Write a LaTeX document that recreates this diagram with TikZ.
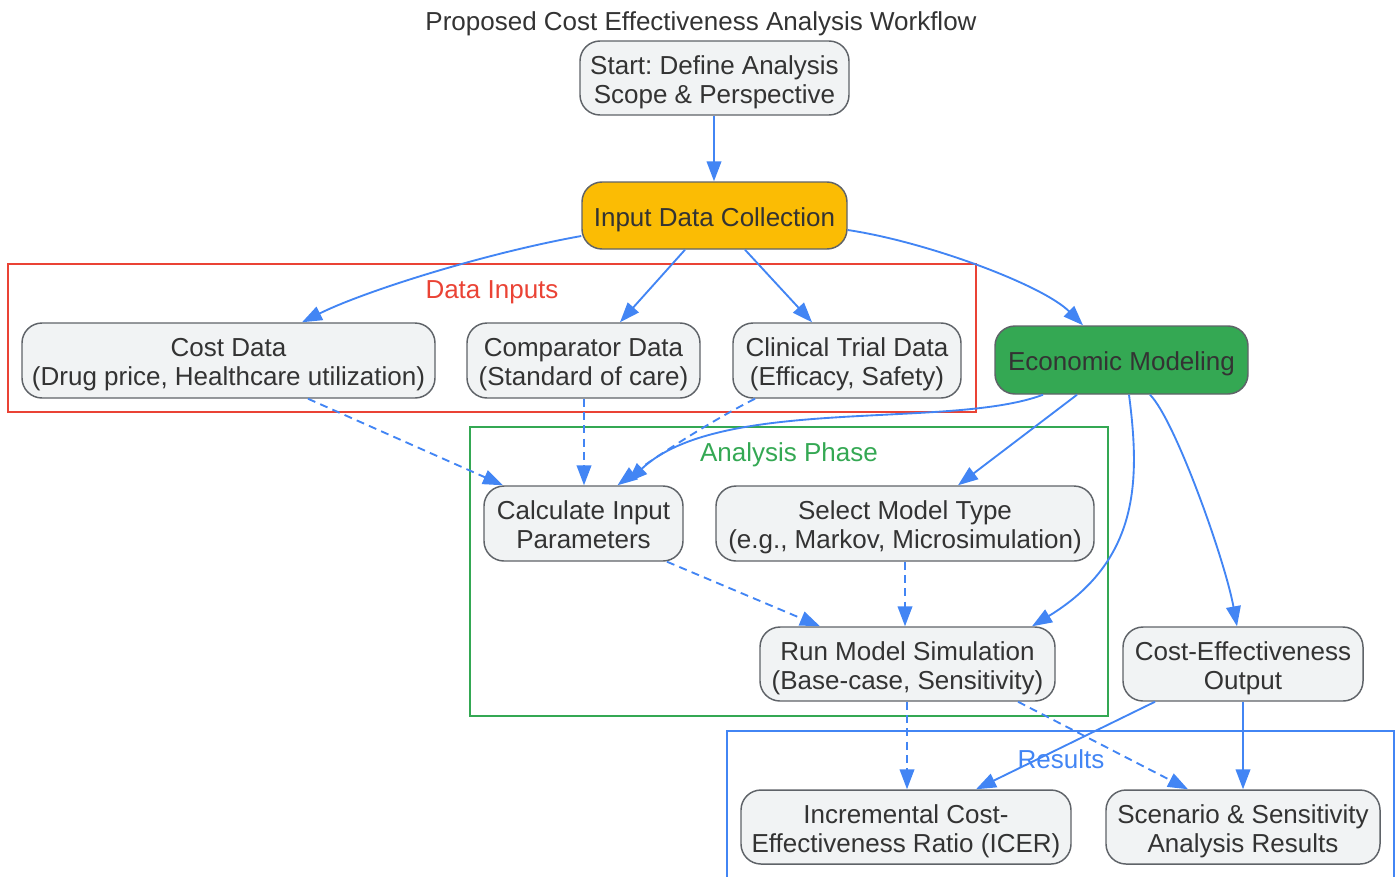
\documentclass[tikz,border=0pt]{standalone}
\usepackage{fontspec}
\setmainfont{Liberation Sans}
\frenchspacing
\usetikzlibrary{arrows.meta,calc}
\definecolor{nodefill}{HTML}{F1F3F4}
\definecolor{nodeborder}{HTML}{5F6368}
\definecolor{textc}{HTML}{333333}
\definecolor{flowc}{HTML}{4285F4}
\definecolor{redc}{HTML}{EA4335}
\definecolor{greenc}{HTML}{34A853}
\definecolor{yellowc}{HTML}{FBBC04}
\begin{document}
\begin{tikzpicture}[x=0.75pt,y=-0.75pt,
  txt/.style={align=center, font=\fontsize{19.5pt}{21.75pt}\selectfont, text=textc, inner sep=0pt, yshift=-3pt},
  box/.style={draw=nodeborder, line width=1.1pt, fill=nodefill, rounded corners=15pt,
    inner sep=0pt, label={[txt]center:{#1}}},
  cluster/.style={line width=1.1pt},
  clabel/.style={font=\fontsize{19.5pt}{21.75pt}\selectfont, inner sep=0pt},
  flow/.style={draw=flowc, line width=1.4pt, -{Triangle[length=15pt,width=11pt]}},
  dflow/.style={flow, dash pattern=on 6pt off 4pt}
]
\useasboundingbox (0,0) rectangle (1399,876);

% title
\node[clabel, text=textc] (title) at (701,24) {Proposed Cost Effectiveness Analysis Workflow};

% clusters
\draw[cluster, draw=redc] (8,264) rectangle (976,412);
\node[clabel, text=redc] (lblinputs) at (492,292) {Data Inputs};
\draw[cluster, draw=greenc] (470,427) rectangle (1108,716);
\node[clabel, text=greenc] (lblanalysis) at (789,455) {Analysis Phase};
\draw[cluster, draw=flowc] (727,880) -- (727,731) -- (1394,731) -- (1394,880);
\node[clabel, text=flowc] (lblresults) at (1061,759) {Results};

% nodes
\node[box={Start: Define Analysis\\Scope \& Perspective}, minimum width=201.75pt, minimum height=55.5pt] (start) at (714.5,78) {};
\node[box={Input Data Collection}, fill=yellowc, minimum width=198.75pt, minimum height=50.25pt] (input) at (714.5,215.5) {};
\node[box={Cost Data\\(Drug price, Healthcare utilization)}, minimum width=309.75pt, minimum height=56.25pt] (cost) at (228.5,360.5) {};
\node[box={Comparator Data\\(Standard of care)}, minimum width=174.75pt, minimum height=56.25pt] (comp) at (583.5,360.5) {};
\node[box={Clinical Trial Data\\(Efficacy, Safety)}, minimum width=171pt, minimum height=56.25pt] (clin) at (847,360.5) {};
\node[box={Economic Modeling}, fill=greenc, minimum width=189.75pt, minimum height=51pt] (econ) at (1121.5,360) {};
\node[box={Calculate Input\\Parameters\vphantom{p}}, minimum width=149.25pt, minimum height=56.25pt] (calc) at (583.5,523.5) {};
\node[box={Select Model Type\\(e.g., Markov, Microsimulation)}, minimum width=283.5pt, minimum height=56.25pt] (select) at (905,523.5) {};
\node[box={Run Model Simulation\\(Base-case, Sensitivity)}, minimum width=221.25pt, minimum height=55.5pt] (run) at (907.5,664) {};
\node[box={Cost-Effectiveness\\Output}, minimum width=180pt, minimum height=55.5pt] (out) at (1243,664) {};
\node[box={Incremental Cost-\\Effectiveness Ratio (ICER)}, minimum width=247.5pt, minimum height=55.5pt] (icer) at (906,827) {};
\node[box={Scenario \& Sensitivity\\Analysis Results}, minimum width=205.5pt, minimum height=55.5pt] (scen) at (1243,827) {};

% edges
\draw[flow] ($(start.south)+(-0.5,0)$) -- ($(input.north)+(-0.5,0)$);
\draw[flow] ($(input.west)+(0,20.5)$) .. controls +(-100,18) and +(60,-30) .. ($(cost.north)+(73.5,0)$);
\draw[flow] ($(input.south)+(-29.5,0)$) -- ($(comp.north)+(36.5,0)$);
\draw[flow] ($(input.south)+(30.5,0)$) -- ($(clin.north)+(-35,0)$);
\draw[flow] ($(input.east)+(0,14.5)$) .. controls +(80,12) and +(-40,-40) .. ($(econ.north)+(-38.5,0)$);

\draw[dflow] ($(cost.south)+(79.5,0)$) -- ($(calc.north)+(-80.5,0)$);
\draw[dflow] ($(comp.south)+(0.5,0)$) -- ($(calc.north)+(0.5,0)$);
\draw[dflow] ($(clin.south)+(-92,0)$) .. controls +(-40,20) and +(40,-30) .. ($(calc.north)+(34,0)$);

\draw[flow] ($(econ.south)+(-78.5,0)$) .. controls +(-93,35) and +(92,-87) .. ($(calc.north)+(44,-3)$);
\draw[flow] ($(econ.south)+(-44.5,0)$) -- ($(select.north)+(53,0)$);
\draw[flow] ($(econ.south)+(7.5,0)$) .. controls +(11,85) and +(108,-66) .. ($(run.north)+(124.5,0)$);
\draw[flow] ($(econ.south)+(28.5,0)$) .. controls +(25,25) and +(-12,-66) .. ($(out.north)+(-6,0)$);

\draw[dflow] ($(calc.south)+(83.5,0)$) -- ($(run.north)+(-87.5,0)$);
\draw[dflow] (select.south) -- ($(run.north)+(-2.5,0)$);
\draw[dflow] ($(run.south)+(-0.5,0)$) -- ($(icer.north)+(1,0)$);
\draw[dflow] ($(run.south)+(110.5,0)$) -- ($(scen.north)+(-55,0)$);
\draw[flow] ($(out.south)+(-88,0)$) -- ($(icer.north)+(70,0)$);
\draw[flow] (out.south) -- (scen.north);
\end{tikzpicture}
\end{document}
